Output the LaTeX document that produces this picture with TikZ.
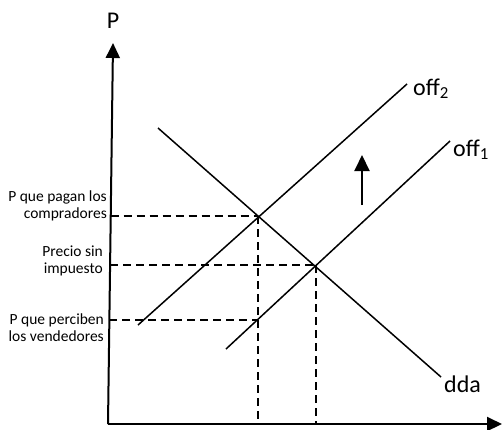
\documentclass[tikz,border=0pt]{standalone}
\usepackage{fontspec}
\setmainfont{Carlito}
\usetikzlibrary{arrows.meta}
\tikzset{
  axis/.style={line width=2pt},
  curve/.style={line width=1.5pt},
  guide/.style={line width=2pt, dash pattern=on 8pt off 5pt},
  biglabel/.style={font=\fontsize{24}{28}\selectfont, inner sep=0pt},
  smalllabel/.style={font=\fontsize{15.5}{16.5}\selectfont, inner sep=0pt, align=right},
  tip/.style={-{Triangle[length=15pt,width=14pt]}}
}
\begin{document}
\begin{tikzpicture}[x=1pt,y=-1pt]
\useasboundingbox (0,0) rectangle (502,429);
% axes
\coordinate (O) at (108,424);
\coordinate (Ytop) at (113,43);
\coordinate (Xend) at (502,424);
\draw[axis,tip] (O) -- (Ytop);
\draw[axis,tip] (O) -- (Xend);
\node[biglabel, anchor=base] (P) at (113,28) {P};
% curves
\coordinate (d1) at (158,128);
\coordinate (d2) at (441,377);
\coordinate (s2a) at (138,325);
\coordinate (s2b) at (407,84);
\coordinate (s1a) at (226,349);
\coordinate (s1b) at (450,141);
\draw[curve] (d1) -- (d2);
\draw[curve] (s2a) -- (s2b);
\draw[curve] (s1a) -- (s1b);
\node[biglabel, anchor=base west] (off2) at (413,95) {off\textsubscript{2}};
\node[biglabel, anchor=base west] (off1) at (453,156) {off\textsubscript{1}};
\node[biglabel, anchor=base west] (dda) at (444,392) {dda};
% intersections and guides
\coordinate (A) at (258,216);
\coordinate (B) at (316,265);
\coordinate (C) at (258,320);
\coordinate (yA) at (110.7,216);
\coordinate (yB) at (110.3,265);
\coordinate (yC) at (109.4,320);
\coordinate (xA) at (258,424);
\coordinate (xB) at (316,424);
\draw[guide] (yA) -- (A);
\draw[guide] (yB) -- (B);
\draw[guide] (yC) -- (C);
\draw[guide] (A) -- (xA);
\draw[guide] (B) -- (xB);
% shift arrow
\coordinate (u1) at (362,205);
\coordinate (u2) at (362,155);
\draw[line width=2pt,-{Triangle[length=16pt,width=15pt]}] (u1) -- (u2);
% price labels
\node[smalllabel, anchor=base east] (pb) at (107,218) {P que pagan los\\compradores};
\node[smalllabel, anchor=base east] (ps) at (103,273) {Precio sin\\impuesto};
\node[smalllabel, anchor=base east] (pv) at (104,341) {P que perciben\\los vendedores};
\end{tikzpicture}
\end{document}
